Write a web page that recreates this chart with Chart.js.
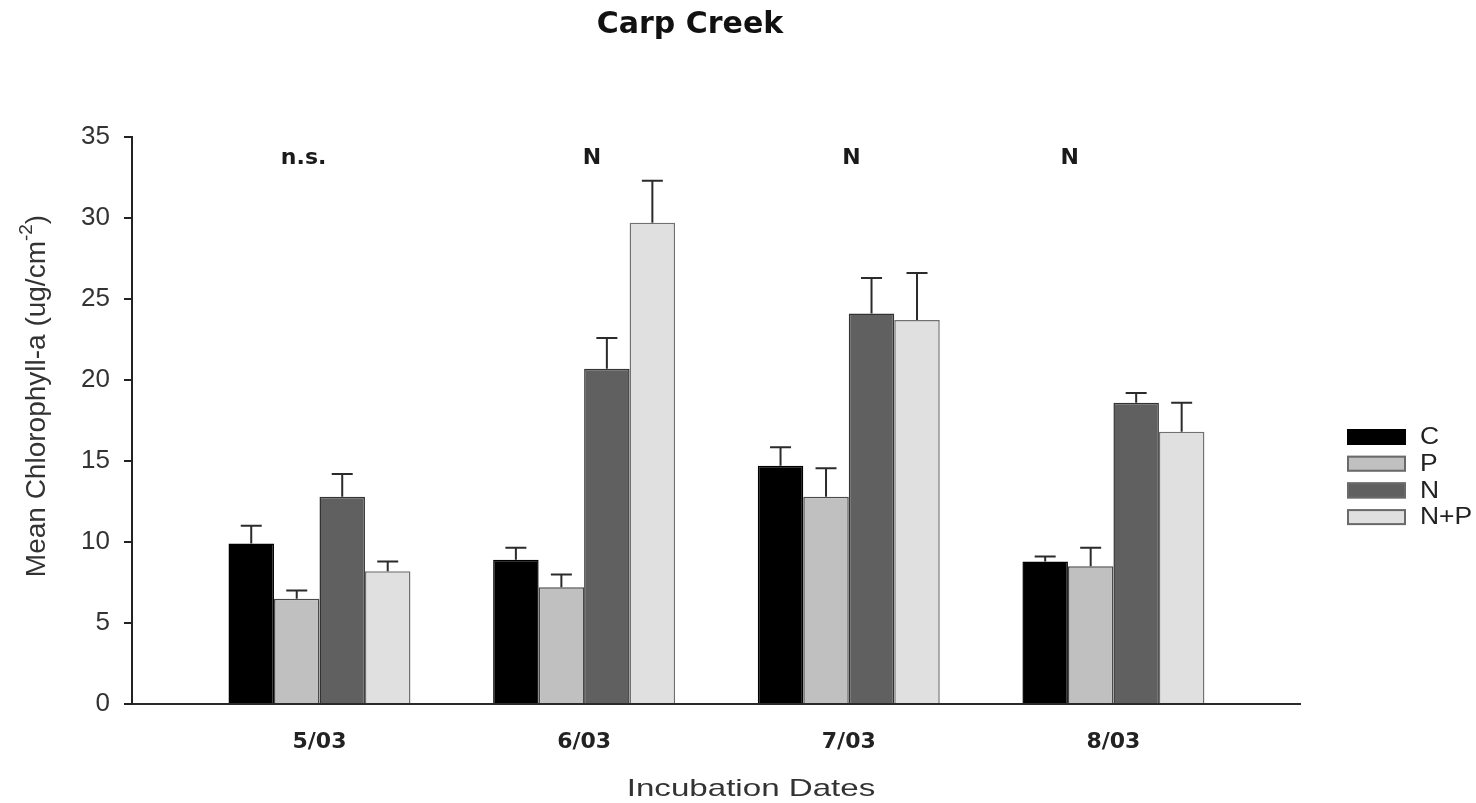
<!DOCTYPE html>
<html>
<head>
<meta charset="utf-8">
<title>Carp Creek</title>
<script src="https://cdn.jsdelivr.net/npm/chart.js@4.4.1/dist/chart.umd.min.js"></script>
<style>
  html, body { margin:0; padding:0; background:#fff; }
  canvas { display:block; }
</style>
</head>
<body>
<canvas id="chart" width="1476" height="803"></canvas>
<script>
// ── Data ──────────────────────────────────────────────────────
const dates      = ['5/03', '6/03', '7/03', '8/03'];
const treatments = ['C', 'P', 'N', 'N+P'];

const meanC  = [9.9, 8.9, 14.7, 8.8];
const meanP  = [6.5, 7.2, 12.8, 8.5];
const meanN  = [12.8, 20.7, 24.1, 18.6];
const meanNP = [8.2, 29.7, 23.7, 16.8];

// upper error (SE) above each mean
const errC  = [1.1, 0.75, 1.15, 0.3];
const errP  = [0.5, 0.8, 1.75, 1.15];
const errN  = [1.4, 1.9, 2.2, 0.6];
const errNP = [0.6, 2.6, 2.9, 1.8];

const sigLabels = ['n.s.', 'N', 'N', 'N'];

// ── Styles ────────────────────────────────────────────────────
const fills   = ['#000000', '#c0c0c0', '#606060', '#e0e0e0'];
const borders = ['#000000', '#4a4a4a', '#333333', '#707070'];
const means   = [meanC, meanP, meanN, meanNP];
const errs    = [errC, errP, errN, errNP];

const datasets = treatments.map((t, k) => ({
  label:           t,
  data:            means[k].map((v, i) => ({ x: i + 1, y: v })),
  errors:          errs[k],
  backgroundColor: fills[k],
  borderColor:     borders[k],
  borderWidth:     1.5,
  categoryPercentage: 0.6876,
  barPercentage:      1.0,
}));

function stretchText(ctx, text, x, y, sx) {
  ctx.save();
  ctx.translate(x, y);
  ctx.scale(sx, 1);
  ctx.fillText(text, 0, 0);
  ctx.restore();
}

// error bars: single upper whisker with a cap
const errorBars = {
  id: 'errorBars',
  afterDatasetsDraw(chart) {
    const { ctx } = chart;
    const y = chart.scales.y;
    ctx.save();
    ctx.strokeStyle = '#2b2b2b';
    ctx.lineWidth = 2;
    chart.data.datasets.forEach((ds, di) => {
      chart.getDatasetMeta(di).data.forEach((bar, i) => {
        const top = y.getPixelForValue(ds.data[i].y + ds.errors[i]);
        ctx.beginPath();
        ctx.moveTo(bar.x, bar.y);
        ctx.lineTo(bar.x, top);
        ctx.moveTo(bar.x - 10.5, top);
        ctx.lineTo(bar.x + 10.5, top);
        ctx.stroke();
      });
    });
    ctx.restore();
  }
};

// titles, significance letters and legend
const decorations = {
  id: 'decorations',
  afterDraw(chart, args, opts) {
    const { ctx } = chart;
    const x = chart.scales.x, y = chart.scales.y;
    ctx.save();

    // main title
    ctx.fillStyle = '#111';
    ctx.font = 'bold 30px "DejaVu Sans"';
    ctx.textAlign = 'center';
    ctx.textBaseline = 'alphabetic';
    ctx.fillText('Carp Creek', 690, 33);

    // significance letters
    ctx.font = 'bold 22px "DejaVu Sans"';
    ctx.textBaseline = 'middle';
    ctx.fillStyle = '#1a1a1a';
    sigLabels.forEach((s, i) => {
      ctx.fillText(s, x.getPixelForValue(opts.sigX[i]), y.getPixelForValue(opts.sigY));
    });

    // x axis title
    ctx.fillStyle = '#333';
    ctx.font = '24px "Liberation Sans"';
    stretchText(ctx, 'Incubation Dates', 751, 789, 1.38);

    // y axis title with superscript
    ctx.save();
    ctx.translate(37, 396);
    ctx.rotate(-Math.PI / 2);
    const main = 'Mean Chlorophyll-a (ug/cm';
    ctx.font = '28px "Liberation Sans"';
    const wMain = ctx.measureText(main).width;
    const wClose = ctx.measureText(')').width;
    ctx.font = '19px "Liberation Sans"';
    const wSup = ctx.measureText('-2').width;
    const total = wMain + wSup + wClose;
    ctx.textAlign = 'left';
    ctx.textBaseline = 'middle';
    let cx = -total / 2;
    ctx.font = '28px "Liberation Sans"';
    ctx.fillText(main, cx, 0);
    cx += wMain;
    ctx.font = '19px "Liberation Sans"';
    ctx.fillText('-2', cx, -10);
    cx += wSup;
    ctx.font = '28px "Liberation Sans"';
    ctx.fillText(')', cx, 0);
    ctx.restore();

    // legend
    ctx.textAlign = 'left';
    ctx.textBaseline = 'middle';
    ctx.font = '23px "Liberation Sans"';
    chart.data.datasets.forEach((ds, k) => {
      const top = opts.legendTop + k * opts.legendStep;
      ctx.fillStyle = ds.backgroundColor;
      ctx.fillRect(opts.legendX, top, 59, 16);
      ctx.strokeStyle = k === 0 ? '#000' : '#6a6a6a';
      ctx.lineWidth = 2;
      ctx.strokeRect(opts.legendX + 1, top + 1, 57, 14);
      ctx.fillStyle = '#222';
      stretchText(ctx, ds.label, opts.legendX + 73, top + 9, 1.15);
    });

    ctx.restore();
  }
};

new Chart(document.getElementById('chart'), {
  type: 'bar',
  data: { datasets },
  plugins: [errorBars, decorations],
  options: {
    responsive: false,
    animation:  false,
    layout: { padding: { left: 0, right: 176, top: 137, bottom: 0 } },
    plugins: {
      legend:  { display: false },
      title:   { display: false },
      tooltip: { enabled: false },
      decorations: {
        sigX: [0.94, 2.03, 3.01, 3.835],
        sigY: 33.7,
        legendX: 1347, legendTop: 429, legendStep: 26.7,
      },
    },
    scales: {
      x: {
        type: 'linear',
        min: 0.2916,
        max: 4.705,
        offset: false,
        afterFit: s => { s.height = 99; },
        afterBuildTicks: s => { s.ticks = dates.map((d, i) => ({ value: i + 1 })); },
        grid:   { display: false, drawTicks: false },
        border: { display: true, color: '#2a2a2a', width: 2 },
        ticks: {
          autoSkip: false,
          maxRotation: 0,
          padding: 25,
          color: '#222',
          font: { family: 'DejaVu Sans', size: 22, weight: 'bold' },
          callback: v => dates[Math.round(v) - 1] || '',
        },
      },
      y: {
        min: 0,
        max: 35,
        afterFit: s => { s.width = 132; },
        grid: {
          drawOnChartArea: false,
          drawTicks: true,
          tickLength: 8,
          color: '#222',
          lineWidth: 2,
        },
        border: { display: true, color: '#222', width: 2 },
        ticks: {
          stepSize: 5,
          padding: 14,
          color: '#333',
          font: { family: 'Liberation Sans', size: 26 },
        },
      },
    },
  },
});
</script>
</body>
</html>
